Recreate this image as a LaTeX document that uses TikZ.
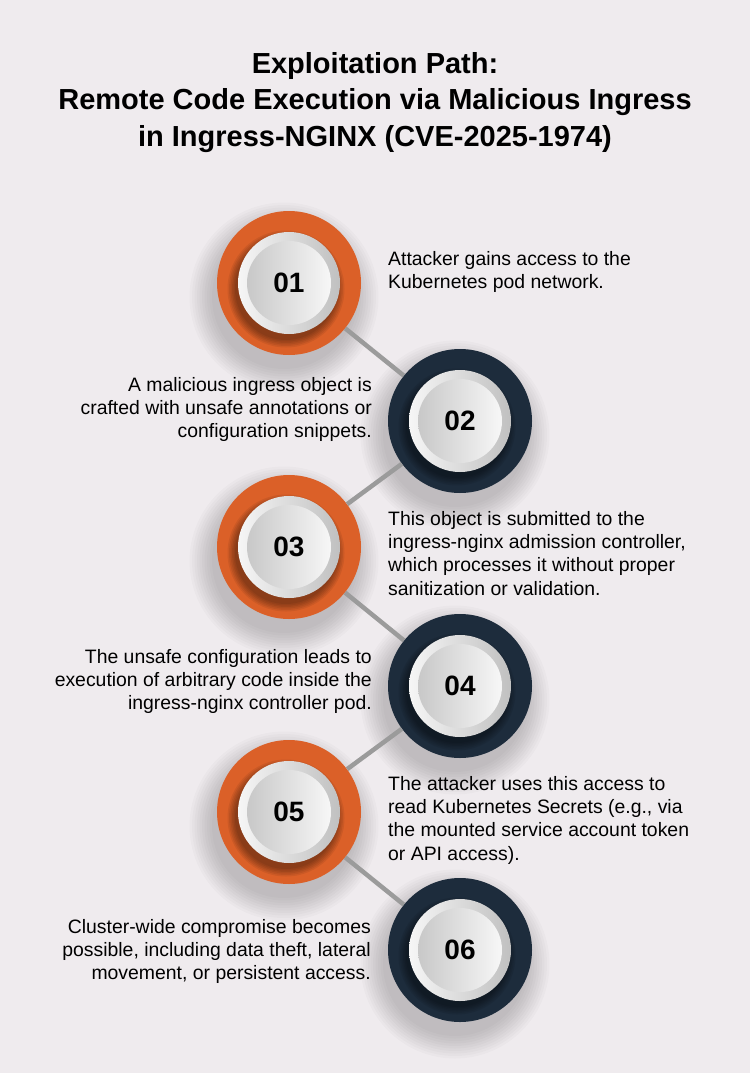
\documentclass[tikz,border=0pt]{standalone}
\usepackage{fontspec}
\setmainfont{Liberation Sans}
\definecolor{pagebg}{RGB}{239, 235, 238}
\definecolor{stepcoral}{RGB}{219, 96, 40}
\definecolor{stepnavy}{RGB}{29, 44, 60}
\definecolor{linkgray}{RGB}{155, 155, 155}
\definecolor{rimlight}{RGB}{246, 246, 246}
\definecolor{rimdark}{RGB}{192, 192, 192}
\definecolor{disclow}{RGB}{200, 200, 200}
\definecolor{dischigh}{RGB}{247, 247, 247}
\usetikzlibrary{positioning, calc}
\newcommand\titlefont{\fontsize{29}{36.7}\selectfont\bfseries}
\newcommand\bodyfont{\fontsize{19.4}{23.3}\selectfont}
\newcommand\numfont{\fontsize{28}{30}\selectfont\bfseries}

\begin{document}
\begin{tikzpicture}[x=1pt, y=-1pt,
  stepdot/.style={circle, minimum size=144pt, inner sep=0pt, fill=#1, font=\numfont,
    path picture={
      \coordinate (pp) at (path picture bounding box.center);
      \foreach \r in {0,...,5}
        \fill[black, opacity=0.07] ([shift={(-3,6)}]pp) circle [radius={(51+1.5*\r)*1pt}];
      \shade[left color=rimlight, right color=rimdark] (pp) circle [radius=51pt];
      \shade[left color=disclow, right color=dischigh] (pp) circle [radius=42pt];
    }},
  note/.style={font=\bodyfont, inner sep=0pt},
  link/.style={line width=4.5pt, linkgray}]
  \useasboundingbox (0,0) rectangle (750,1073);
  \fill[pagebg] (0,0) rectangle (750,1073);

  % Title
  \node[font=\titlefont, align=center, anchor=north, inner sep=0pt] (title) at (375, 52)
    {Exploitation Path:\\Remote Code Execution via Malicious Ingress\\in Ingress-NGINX (CVE-2025-1974)};

  % Step centres
  \coordinate (c1) at (289, 283);
  \coordinate (c2) at (460, 421);
  \coordinate (c3) at (289, 547);
  \coordinate (c4) at (460, 686);
  \coordinate (c5) at (289, 812);
  \coordinate (c6) at (460, 950);

  % Soft shadows
  \foreach \i in {1,...,6}
    \foreach \r in {0,...,9}
      \fill[black, opacity=0.02] ([shift={(-5,14)}]c\i) circle [radius={(72+2.5*\r)*1pt}];

  % Steps
  \node[stepdot=stepcoral] (s1) at (c1) {01};
  \node[stepdot=stepnavy] (s2) at (c2) {02};
  \node[stepdot=stepcoral] (s3) at (c3) {03};
  \node[stepdot=stepnavy] (s4) at (c4) {04};
  \node[stepdot=stepcoral] (s5) at (c5) {05};
  \node[stepdot=stepnavy] (s6) at (c6) {06};

  % Connectors
  \draw[link] (s1) -- (s2);
  \draw[link] (s2) -- (s3);
  \draw[link] (s3) -- (s4);
  \draw[link] (s4) -- (s5);
  \draw[link] (s5) -- (s6);

  % Descriptions
  \node[note, align=left, anchor=north west] (t1) at (388, 251)
    {Attacker gains access to the\\Kubernetes pod network.};
  \node[note, align=right, anchor=north east] (t2) at (372, 377)
    {A malicious ingress object is\\crafted with unsafe annotations or\\configuration snippets.};
  \node[note, align=left, anchor=north west] (t3) at (388, 511)
    {This object is submitted to the\\ingress-nginx admission controller,\\which processes it without proper\\sanitization or validation.};
  \node[note, align=right, anchor=north east] (t4) at (372, 649)
    {The unsafe configuration leads to\\execution of arbitrary code inside the\\ingress-nginx controller pod.};
  \node[note, align=left, anchor=north west] (t5) at (388, 776)
    {The attacker uses this access to\\read Kubernetes Secrets (e.g., via\\the mounted service account token\\or API access).};
  \node[note, align=right, anchor=north east] (t6) at (371, 919)
    {Cluster-wide compromise becomes\\possible, including data theft, lateral\\movement, or persistent access.};
\end{tikzpicture}
\end{document}
